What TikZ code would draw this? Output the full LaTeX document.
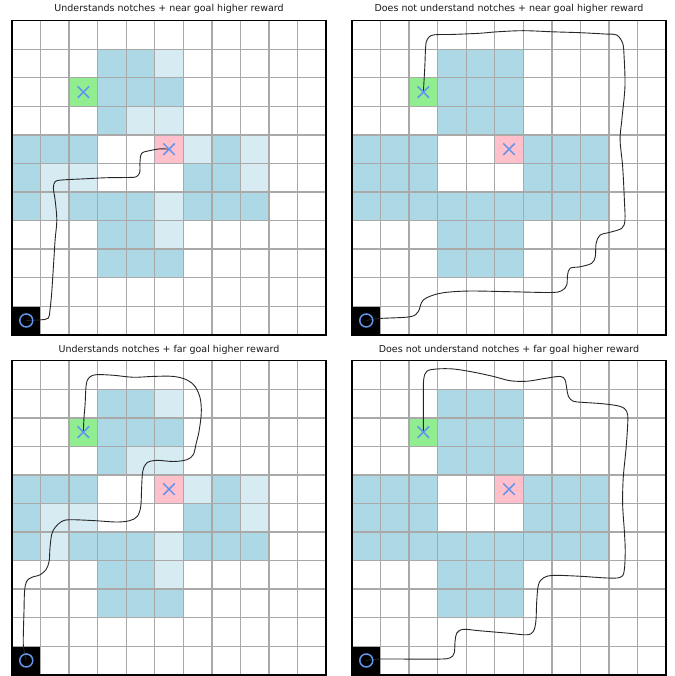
\documentclass[tikz,border=0pt]{standalone}
\usepackage{fontspec}
\setmainfont{DejaVu Sans}
\usetikzlibrary{shapes.misc}
\definecolor{wall}{HTML}{ADD8E6}
\definecolor{notch}{HTML}{D6EBF2}
\definecolor{goalA}{HTML}{90EE90}
\definecolor{goalB}{HTML}{FFC0CB}
\definecolor{markc}{HTML}{6495ED}
\definecolor{gridc}{HTML}{A9A9A9}
\tikzset{
  paneltitle/.style={font=\fontsize{9.5pt}{11pt}\selectfont, text=black!90, inner sep=0pt},
  gridline/.style={draw=gridc, line width=1.4pt},
  frame/.style={draw=black, line width=1.5pt},
  startmark/.style={circle, draw=markc, line width=1.5pt, minimum size=13pt, inner sep=0pt},
  goalmark/.style={cross out, draw=markc, line width=1.5pt, minimum size=10pt, inner sep=0pt},
  traj/.style={draw=black!85, line width=0.9pt},
}
\newcommand\drawpanel[6]{%
  \begin{scope}[shift={(#1pt,-#2pt)}, x=28.55pt, y=-28.55pt]
    \foreach \c/\r in {3/1,4/1,3/2,4/2,5/2,3/3,0/4,1/4,2/4,7/4,0/5,6/5,7/5,0/6,2/6,3/6,4/6,6/6,7/6,8/6,3/7,4/7,3/8,4/8,5/8}
      \fill[wall] (\c,\r) rectangle ++(1,1);
    \foreach \c/\r in {5/1,4/3,5/3,6/4,8/4,1/5,2/5,8/5,1/6,5/6,5/7}
      \fill[#3] (\c,\r) rectangle ++(1,1);
    \fill[goalA] (2,2) rectangle ++(1,1);
    \fill[goalB] (5,4) rectangle ++(1,1);
    \fill[black] (0,10) rectangle ++(1,1);
    \foreach \i in {1,...,10} {
      \draw[gridline] (\i,0) -- (\i,11);
      \draw[gridline] (0,\i) -- (11,\i);
    }
    \draw[frame] (0,0) rectangle (11,11);
    \coordinate (#4s) at (0.5,10.5);
    \coordinate (#4g) at (2.5,2.5);
    \coordinate (#4p) at (5.5,4.5);
    \draw[traj] plot[smooth, tension=0.55] coordinates {(#4s) #5 (#4#6)};
    \node[startmark] (#4start) at (#4s) {};
    \node[goalmark] (#4green) at (#4g) {};
    \node[goalmark] (#4pink) at (#4p) {};
  \end{scope}%
}
\begin{document}
\begin{tikzpicture}
\useasboundingbox (0pt,0pt) rectangle (674pt,-676pt);
\fill[white] (0pt,0pt) rectangle (674pt,-676pt);
\node[paneltitle] (t1) at (169pt,-9pt) {Understands notches + near goal higher reward};
\node[paneltitle] (t2) at (509pt,-9pt) {Does not understand notches + near goal higher reward};
\node[paneltitle] (t3) at (169pt,-349.5pt) {Understands notches + far goal higher reward};
\node[paneltitle] (t4) at (509pt,-349.5pt) {Does not understand notches + far goal higher reward};
\drawpanel{12}{20.7}{notch}{a}{(0.98,10.48) (1.27,10.42) (1.33,10.13) (1.39,9.54) (1.45,8.62) (1.51,7.68) (1.57,6.98) (1.51,6.28) (1.45,5.87) (1.51,5.64) (1.74,5.58) (2.50,5.54) (3.32,5.50) (4.13,5.49) (4.37,5.46) (4.48,5.29) (4.48,5.0) (4.54,4.65) (4.83,4.55) (5.18,4.49)}{p}
\drawpanel{352}{20.7}{wall}{b}{(0.98,10.43) (2.03,10.37) (2.32,10.19) (2.50,9.78) (3.08,9.55) (4.02,9.47) (5.42,9.49) (6.94,9.52) (7.34,9.46) (7.52,9.26) (7.55,8.91) (7.64,8.67) (7.99,8.62) (8.39,8.50) (8.52,8.27) (8.55,7.80) (8.69,7.51) (9.04,7.41) (9.45,7.27) (9.56,6.98) (9.54,6.28) (9.48,5.11) (9.39,4.18) (9.45,3.48) (9.56,2.31) (9.53,1.26) (9.48,0.79) (9.27,0.50) (8.92,0.47) (7.99,0.42) (7.05,0.39) (6.00,0.35) (5.07,0.39) (4.48,0.44) (3.55,0.48) (2.85,0.50) (2.64,0.65) (2.58,0.91) (2.55,1.61)}{g}
\drawpanel{12}{360.7}{notch}{c}{(0.40,10.01) (0.40,9.48) (0.42,8.78) (0.44,8.08) (0.51,7.73) (0.69,7.59) (0.98,7.50) (1.19,7.32) (1.30,7.03) (1.33,6.56) (1.39,6.09) (1.51,5.84) (1.74,5.63) (2.03,5.57) (2.85,5.60) (3.67,5.65) (4.13,5.60) (4.39,5.45) (4.51,5.10) (4.54,4.46) (4.58,3.88) (4.72,3.58) (5.07,3.49) (5.65,3.53) (6.12,3.47) (6.35,3.29) (6.44,2.94) (6.55,2.48) (6.63,1.83) (6.59,1.31) (6.41,0.90) (6.12,0.67) (5.65,0.55) (4.95,0.55) (4.25,0.58) (3.55,0.51) (2.97,0.49) (2.71,0.58) (2.60,0.84) (2.56,1.54) (2.52,2.01)}{g}
\drawpanel{352}{360.7}{wall}{d}{(0.98,10.45) (1.91,10.45) (3.08,10.45) (3.43,10.41) (3.58,10.24) (3.61,9.83) (3.67,9.54) (3.90,9.41) (4.48,9.46) (5.42,9.54) (6.12,9.60) (6.35,9.48) (6.44,9.13) (6.47,8.43) (6.53,7.85) (6.70,7.61) (7.05,7.52) (7.99,7.55) (8.92,7.61) (9.39,7.59) (9.53,7.38) (9.57,6.68) (9.54,5.98) (9.48,5.04) (9.50,4.11) (9.60,3.06) (9.66,2.12) (9.62,1.77) (9.39,1.60) (8.80,1.51) (8.10,1.46) (7.75,1.42) (7.58,1.25) (7.52,0.96) (7.46,0.67) (7.29,0.55) (6.70,0.63) (6.12,0.72) (5.53,0.70) (4.95,0.55) (4.25,0.40) (3.55,0.29) (2.97,0.29) (2.62,0.37) (2.51,0.67) (2.50,1.31)}{g}
\end{tikzpicture}
\end{document}
